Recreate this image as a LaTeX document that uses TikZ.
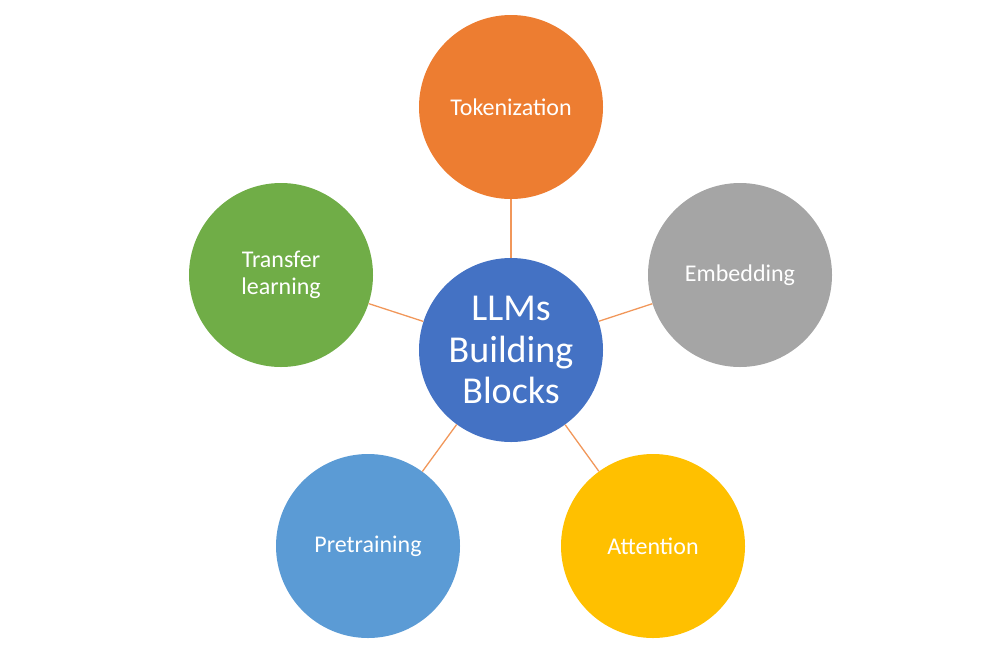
\documentclass[tikz,border=0pt]{standalone}
\usepackage{fontspec}
\setmainfont{Carlito}
\definecolor{cblue}{HTML}{4472C4}
\definecolor{corange}{HTML}{ED7D31}
\definecolor{cgray}{HTML}{A5A5A5}
\definecolor{cgold}{HTML}{FFC000}
\definecolor{clblue}{HTML}{5B9BD5}
\definecolor{cgreen}{HTML}{70AD47}
\begin{document}
\begin{tikzpicture}[x=1pt,y=-1pt,
  bubble/.style={circle,minimum size=184pt,inner sep=0pt,text=white,align=center,
    font=\fontsize{24}{27}\selectfont},
  hub/.style={bubble,font=\fontsize{38}{41.5}\selectfont},
  link/.style={draw=corange!80,line width=1.3pt}]
\useasboundingbox (0,0) rectangle (1000,649);
\node[hub,fill=cblue] (c) at (511,350) {LLMs\\Building\\Blocks};
\node[bubble,fill=corange] (tok) at (511,107) {Tokenization};
\node[bubble,fill=cgray] (emb) at (740,275) {Embedding};
\node[bubble,fill=cgold] (att) at (653,546) {Attention};
\node[bubble,fill=clblue] (pre) at (368,546) {Pretraining};
\node[bubble,fill=cgreen] (tra) at (281,275) {Transfer\\learning};
\draw[link] (c) -- (tok);
\draw[link] (c) -- (emb);
\draw[link] (c) -- (att);
\draw[link] (c) -- (pre);
\draw[link] (c) -- (tra);
\end{tikzpicture}
\end{document}
